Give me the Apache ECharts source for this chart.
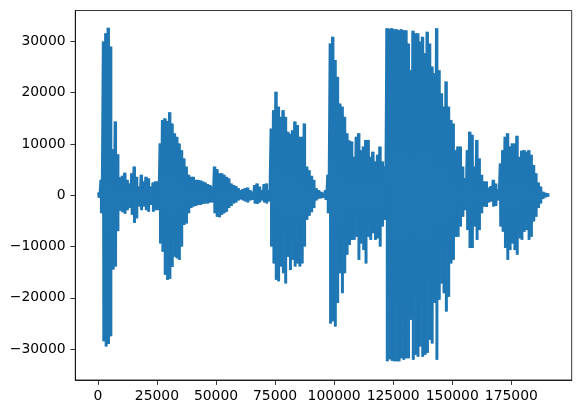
<!DOCTYPE html>
<html><head><meta charset="utf-8">
<script src="https://cdn.jsdelivr.net/npm/echarts@6/dist/echarts.min.js"></script>
<style>html,body{margin:0;padding:0;background:#fff}#c{width:581px;height:413px}</style>
</head><body><div id="c"></div>
<script>
// Waveform envelope, one max/min pair per 1000 samples
const sampleStep = 1000;
const envMax = [
 500, 3000, 30000, 31600, 32700, 29000, 9000, 14400, 8000, 3500,
 3800, 4400, 3000, 2300, 4300, 5600, 3600, 1700, 4000, 2700,
 3600, 3300, 1700, 2500, 2700, 2700, 10100, 14700, 15000, 14500,
 16200, 14000, 12100, 11400, 10100, 8800, 7200, 5600, 4000, 3600,
 3600, 3000, 3000, 2900, 2700, 2500, 2200, 2000, 1700, 5600,
 5100, 4300, 4300, 4000, 3600, 3300, 2300, 2000, 1800, 1400,
 1000, 1200, 1400, 1500, 1000, 700, 2000, 2300, 1700, 1000,
 2200, 2300, 1000, 13000, 16600, 20200, 17300, 15300, 16600, 15300,
 12400, 12000, 12700, 14400, 13700, 11400, 11400, 14000, 5600, 4900,
 3800, 3000, 1400, 1000, 700, 500, 1000, 4000, 29600, 30900,
 26400, 23100, 17900, 17300, 15300, 12100, 10700, 10500, 7500, 11400,
 12100, 8800, 9500, 10800, 10800, 7500, 8500, 6600, 7900, 9500,
 6600, 5600, 32600, 32500, 32600, 32400, 32400, 32200, 32400, 32200,
 32200, 29600, 24400, 32100, 31600, 31600, 30000, 30900, 27700, 31900,
 29600, 25100, 23800, 32600, 24400, 19900, 17300, 22200, 17300, 14700,
 14000, 8800, 9500, 9500, 5600, 3300, 8800, 12400, 11800, 5600,
 10800, 7200, 4000, 2700, 2700, 1500, 1800, 3000, 2300, 1200,
 6200, 8800, 11400, 12100, 9500, 10100, 10100, 11600, 7500, 8700,
 8800, 8500, 8800, 7900, 5900, 4300, 2500, 1700, 700, 500,
 400
];
const envMin = [
 -500, -3500, -28500, -29500, -29000, -27500, -14500, -13900, -7000, -3000,
 -3300, -3600, -2900, -2500, -3800, -5400, -4500, -2200, -2900, -2200,
 -2900, -3200, -1900, -3200, -2900, -2900, -9400, -11000, -15500, -16500,
 -16300, -14000, -12000, -12300, -12600, -10000, -5800, -5500, -3500, -2500,
 -2200, -2100, -1900, -1900, -1700, -1600, -1600, -1400, -1400, -3500,
 -4200, -4300, -3800, -3500, -3200, -2500, -2100, -1600, -1400, -1000,
 -800, -1000, -1200, -1400, -1000, -900, -1600, -1700, -1400, -1000,
 -1400, -1600, -1200, -10000, -13300, -16500, -16800, -13900, -15200, -17200,
 -12000, -14600, -12600, -13900, -13300, -13900, -13300, -10000, -4800, -4000,
 -3300, -2500, -1000, -650, -600, -500, -900, -3500, -25000, -24600,
 -25600, -21000, -15200, -19100, -15200, -11600, -9700, -8700, -8700, -8100,
 -12600, -9400, -10700, -13300, -8100, -8700, -7400, -8700, -8400, -10000,
 -6100, -4800, -32400, -32000, -32300, -32400, -32400, -32400, -31800, -32100,
 -31800, -31800, -24300, -32100, -31100, -31500, -29500, -31500, -31100, -30800,
 -28200, -28900, -21000, -32100, -20400, -17200, -19100, -22700, -19800, -13300,
 -12600, -8100, -8100, -6100, -4200, -2900, -6800, -10300, -10300, -6100,
 -8700, -6800, -3500, -2200, -2300, -1400, -1200, -2200, -2100, -1000,
 -6100, -7100, -10300, -12600, -10700, -9400, -10700, -11600, -8400, -8700,
 -7100, -6800, -8700, -8100, -5100, -4200, -2500, -1600, -700, -400,
 -300
];
const xTicks = [0, 25000, 50000, 75000, 100000, 125000, 150000, 175000];
const yTicks = [-30000, -20000, -10000, 0, 10000, 20000, 30000];

const waveData = [];
const bandData = [];
for (let i = 0; i < envMax.length; i++) {
  waveData.push([i * sampleStep, envMax[i]]);
  waveData.push([i * sampleStep + sampleStep / 2, envMin[i]]);
  bandData.push([i * sampleStep, envMax[i], envMin[i]]);
}
const fmt = v => (v < 0 ? '\u2212' + Math.abs(v) : String(v));
const font = {color: '#000', fontFamily: 'DejaVu Sans', fontSize: 13.9};
const blue = '#1f77b4';

const chart = echarts.init(document.getElementById('c'), null, {renderer: 'canvas'});
chart.setOption({
  animation: false,
  backgroundColor: '#fff',
  grid: {left: 75.3, right: 9.3, top: 10.5, bottom: 33, show: true, borderColor: '#000', borderWidth: 0.8, containLabel: false},
  xAxis: {
    type: 'value', min: -9550, max: 200550,
    splitLine: {show: false},
    axisLine: {show: true, onZero: false, lineStyle: {color: '#000', width: 0.8}},
    axisTick: {show: true, length: 4.9, lineStyle: {color: '#000', width: 0.8}, customValues: xTicks},
    axisLabel: Object.assign({customValues: xTicks, margin: 9.7, formatter: fmt}, font)
  },
  yAxis: {
    type: 'value', min: -36045, max: 36045,
    splitLine: {show: false},
    axisLine: {show: true, onZero: false, lineStyle: {color: '#000', width: 0.8}},
    axisTick: {show: true, length: 4.9, lineStyle: {color: '#000', width: 0.8}, customValues: yTicks},
    axisLabel: Object.assign({customValues: yTicks, margin: 9.7, formatter: fmt}, font)
  },
  series: [
    {type: 'custom', data: bandData, silent: true, z: 2,
     encode: {x: 0, y: [1, 2]},
     renderItem: function (params, api) {
       const x = api.value(0);
       const p1 = api.coord([x, api.value(1)]);
       const p2 = api.coord([x + sampleStep, api.value(2)]);
       return {type: 'rect', shape: {x: p1[0] - 0.3, y: p1[1], width: p2[0] - p1[0] + 0.6, height: p2[1] - p1[1]},
               style: {fill: blue}};
     }},
    {type: 'line', data: waveData, showSymbol: false, symbol: 'none', silent: true,
     lineStyle: {color: blue, width: 1.5}, clip: true, z: 3}
  ]
});
</script></body></html>
